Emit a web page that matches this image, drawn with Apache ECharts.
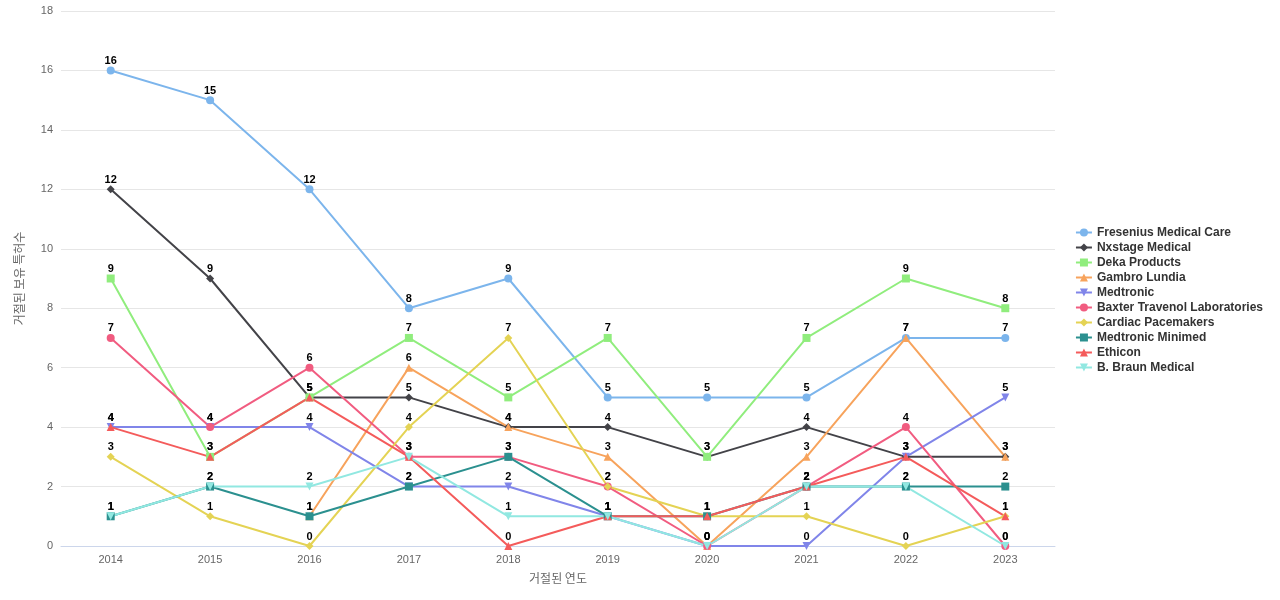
<!DOCTYPE html>
<html><head><meta charset="utf-8">
<script src="https://cdn.jsdelivr.net/npm/echarts@6/dist/echarts.min.js"></script>
<style>html,body{margin:0;padding:0;background:#fff}#c{width:1280px;height:600px}</style>
</head><body><div id="c"></div>
<script>
const years = ['2014','2015','2016','2017','2018','2019','2020','2021','2022','2023'];
const seriesNames = ['Fresenius Medical Care','Nxstage Medical','Deka Products','Gambro Lundia','Medtronic','Baxter Travenol Laboratories','Cardiac Pacemakers','Medtronic Minimed','Ethicon','B. Braun Medical'];
const fresenius = [16,15,12,8,9,5,5,5,7,7];
const nxstage = [12,9,5,5,4,4,3,4,3,3];
const deka = [9,3,5,7,5,7,3,7,9,8];
const gambro = [null,null,1,6,4,3,0,3,7,3];
const medtronic = [4,4,4,2,2,1,0,0,3,5];
const baxter = [7,4,6,3,3,2,0,2,4,0];
const cardiac = [3,1,0,4,7,2,1,1,0,1];
const minimed = [1,2,1,2,3,1,1,2,2,2];
const ethicon = [4,3,5,3,0,1,1,2,3,1];
const braun = [1,2,2,3,1,1,0,2,2,0];
const allData = [fresenius,nxstage,deka,gambro,medtronic,baxter,cardiac,minimed,ethicon,braun];
const colors = ['#7cb5ec','#434348','#90ed7d','#f7a35c','#8085e9','#f15c80','#e4d354','#2b908f','#f45b5b','#91e8e1'];
const symbols = ['circle','diamond','rect','triangle','triangle','circle','diamond','rect','triangle','triangle'];
const rotations = [0,0,0,0,180,0,0,0,0,180];

const chart = echarts.init(document.getElementById('c'));
chart.setOption({
  animation:false,
  color: colors,
  grid:{left:61,right:225,top:11,bottom:54,containLabel:false},
  legend:{
    orient:'vertical', right:12, top:'middle', itemGap:3, itemWidth:16, itemHeight:10,
    textStyle:{fontWeight:'bold',fontSize:12,color:'#333',fontFamily:'Liberation Sans, Arial, sans-serif'},
    data: seriesNames
  },
  xAxis:{
    type:'category', data:years, boundaryGap:true,
    name:'거절된 연도', nameLocation:'middle', nameGap:26,
    nameTextStyle:{color:'#666',fontSize:12,fontFamily:'Noto Sans CJK KR'},
    axisLine:{lineStyle:{color:'#ccd6eb'}},
    axisTick:{show:false},
    axisLabel:{color:'#666',fontSize:11}
  },
  yAxis:{
    type:'value', min:0, max:18, interval:2,
    name:'거절된 보유 특허수', nameLocation:'middle', nameGap:36,
    nameTextStyle:{color:'#666',fontSize:12,fontFamily:'Noto Sans CJK KR'},
    axisLine:{show:false}, axisTick:{show:false},
    axisLabel:{color:'#666',fontSize:11},
    splitLine:{lineStyle:{color:'#e6e6e6'}}
  },
  series: seriesNames.map((n,i)=>({
    name:n, type:'line', data:allData[i],
    symbol:symbols[i], symbolRotate:rotations[i],
    symbolSize:8,
    lineStyle:{width:2}, connectNulls:false,
    label:{show:true, position:'top', distance:0, color:'#000', fontWeight:'bold', fontSize:11}
  }))
});
</script></body></html>
